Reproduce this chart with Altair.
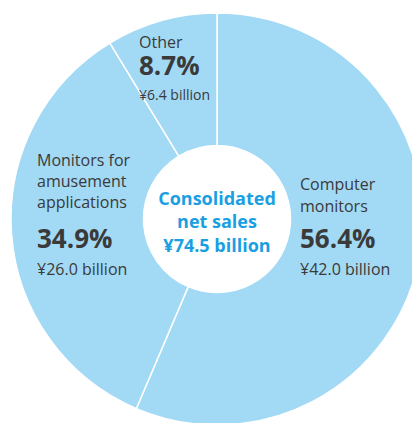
import altair as alt
import pandas as pd

# ---- data ----
categories = ["Computer monitors", "Monitors for amusement applications", "Other"]
shares = [56.4, 34.9, 8.7]
amounts = [42.0, 26.0, 6.4]
label_names = ["Computer\nmonitors", "Monitors for\namusement\napplications", "Other"]
center_lines = "Consolidated\nnet sales\n¥74.5 billion"

df = pd.DataFrame({
    "category": categories,
    "share": shares,
    "amount": amounts,
    "order": list(range(len(categories))),
})

# ---- style / layout ----
FILL = "#a2d9f5"
GRAY = "#3a3a3a"
BLUE = "#1a9fe3"
FONT = "Open Sans"
W, H = 404, 415
CX, CY = 209, 211
R_OUT, R_IN = 206, 73.5

arcs = alt.Chart(df).mark_arc(
    radius=R_OUT, radius2=R_IN, fill=FILL, stroke="white", strokeWidth=1.5
).encode(
    theta=alt.Theta("share:Q", stack=True),
    order=alt.Order("order:Q"),
    x=alt.value(CX),
    y=alt.value(CY),
)

one = pd.DataFrame({"k": [0]})

def txt(text, x, y, size, bold=False, color=GRAY, align="left", lh=None):
    kw = dict(text=text, font=FONT, fontSize=size, fontWeight="bold" if bold else "normal",
              color=color, align=align, baseline="alphabetic")
    if lh is not None:
        kw["lineBreak"] = "\n"
        kw["lineHeight"] = lh
    return alt.Chart(one).mark_text(**kw).encode(x=alt.value(x), y=alt.value(y))

layout = {
    0: dict(x=292, name_y=182, pct_y=240, amt_y=267, lh=21.5, amt_size=16),
    1: dict(x=29, name_y=158, pct_y=240, amt_y=267, lh=21, amt_size=16),
    2: dict(x=131, name_y=40, pct_y=67, amt_y=92, lh=21, amt_size=14),
}

layers = [arcs]
for i in range(len(categories)):
    L = layout[i]
    layers.append(txt(label_names[i], L["x"], L["name_y"], 16, lh=L["lh"]))
    layers.append(txt(f"{shares[i]:.1f}%", L["x"], L["pct_y"], 26, bold=True))
    layers.append(txt(f"¥{amounts[i]:.1f} billion", L["x"], L["amt_y"], L["amt_size"]))

layers.append(txt(center_lines, CX, 197, 18, bold=True, color=BLUE, align="center", lh=23.3))

chart = alt.layer(*layers).properties(
    width=W, height=H, padding=0, autosize=alt.AutoSizeParams(type="none")
).configure_view(stroke=None)

chart.save("out.html", embed_options={"renderer": "svg", "actions": False})
